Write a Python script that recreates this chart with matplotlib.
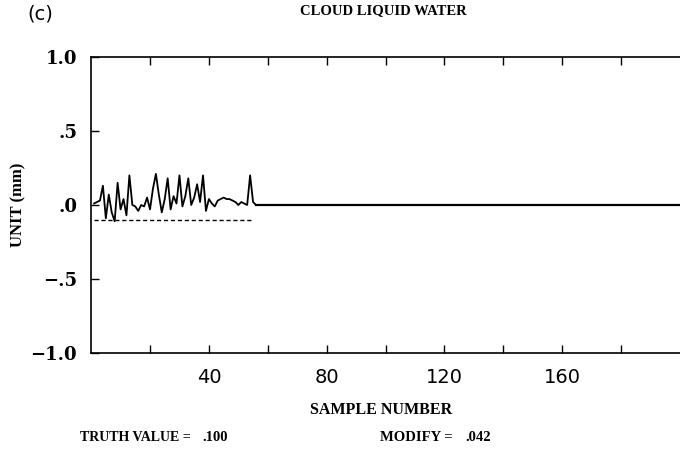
import matplotlib
matplotlib.use("Agg")
import matplotlib.pyplot as plt
from matplotlib.ticker import FixedLocator

# ---- data ----
sample_noisy = list(range(1, 57))
clw_noisy = [0.01, 0.02, 0.03, 0.13, -0.09, 0.07, -0.05, -0.11, 0.15, -0.03,
             0.04, -0.07, 0.20, 0.00, -0.01, -0.04, 0.00, -0.01, 0.05, -0.03,
             0.11, 0.21, 0.07, -0.05, 0.04, 0.18, -0.03, 0.06, 0.01, 0.20,
             -0.01, 0.06, 0.18, 0.00, 0.05, 0.14, 0.02, 0.20, -0.04, 0.04,
             0.01, -0.01, 0.03, 0.04, 0.05, 0.04, 0.04, 0.03, 0.02, 0.00,
             0.02, 0.01, 0.00, 0.20, 0.02, 0.00]
sample_flat = [56, 200]
clw_flat = [0.0, 0.0]
sample_ref = [1, 55]
clw_ref = [-0.10, -0.10]

xticks_major = [20, 40, 60, 80, 100, 120, 140, 160, 180]
xtick_labels = ["", "40", "", "80", "", "120", "", "160", ""]
yticks = [-1.0, -0.5, 0.0, 0.5, 1.0]
ytick_labels = ["\u22121.0", "\u2212.5", ".0", ".5", "1.0"]

title = "CLOUD LIQUID WATER"
panel = "(c)"
xlabel = "SAMPLE NUMBER"
ylabel = "UNIT (mm)"
truth_label = "TRUTH VALUE ="
truth_value = ".100"
modify_label = "MODIFY ="
modify_value = ".042"

# ---- figure ----
fig = plt.figure(figsize=(6.8, 4.55), dpi=100)
ax = fig.add_axes([0.134, 0.224, 0.866, 0.651])

ax.plot(sample_noisy, clw_noisy, color="black", lw=1.3)
ax.plot(sample_flat, clw_flat, color="black", lw=1.6)
ax.plot(sample_ref, clw_ref, color="black", lw=1.0, ls=(0, (3, 2)))

ax.set_xlim(0, 200)
ax.set_ylim(-1.0, 1.0)

ax.spines["right"].set_visible(False)
for s in ["left", "top", "bottom"]:
    ax.spines[s].set_linewidth(1.2)

ax.xaxis.set_major_locator(FixedLocator(xticks_major))
ax.set_xticklabels(xtick_labels, family="DejaVu Sans", fontsize=14)
ax.tick_params(axis="x", direction="in", top=True, bottom=True, length=6,
               width=1.0, pad=11)
ax.set_yticks(yticks)
ax.set_yticklabels(ytick_labels, family="DejaVu Serif", fontweight="bold",
                   fontsize=13)
ax.tick_params(axis="y", direction="in", left=True, right=False, length=6,
               width=1.0, pad=10)

serif = dict(family="Liberation Serif", fontweight="bold")
fig.text(0.563, 0.99, title, ha="center", va="top", fontsize=10.5, **serif)
fig.text(0.059, 0.99, panel, ha="center", va="top", fontsize=14,
         family="DejaVu Sans")
fig.text(0.561, 0.098, xlabel, ha="center", va="center", fontsize=11.5, **serif)
fig.text(0.027, 0.55, ylabel, ha="center", va="center", rotation=90,
         fontsize=12, **serif)
fig.text(0.118, 0.038, truth_label, ha="left", va="center", fontsize=10, **serif)
fig.text(0.297, 0.038, truth_value, ha="left", va="center", fontsize=10.5, **serif)
fig.text(0.559, 0.038, modify_label, ha="left", va="center", fontsize=10.5, **serif)
fig.text(0.684, 0.038, modify_value, ha="left", va="center", fontsize=10.5, **serif)

fig.savefig("out.png", dpi=100)
